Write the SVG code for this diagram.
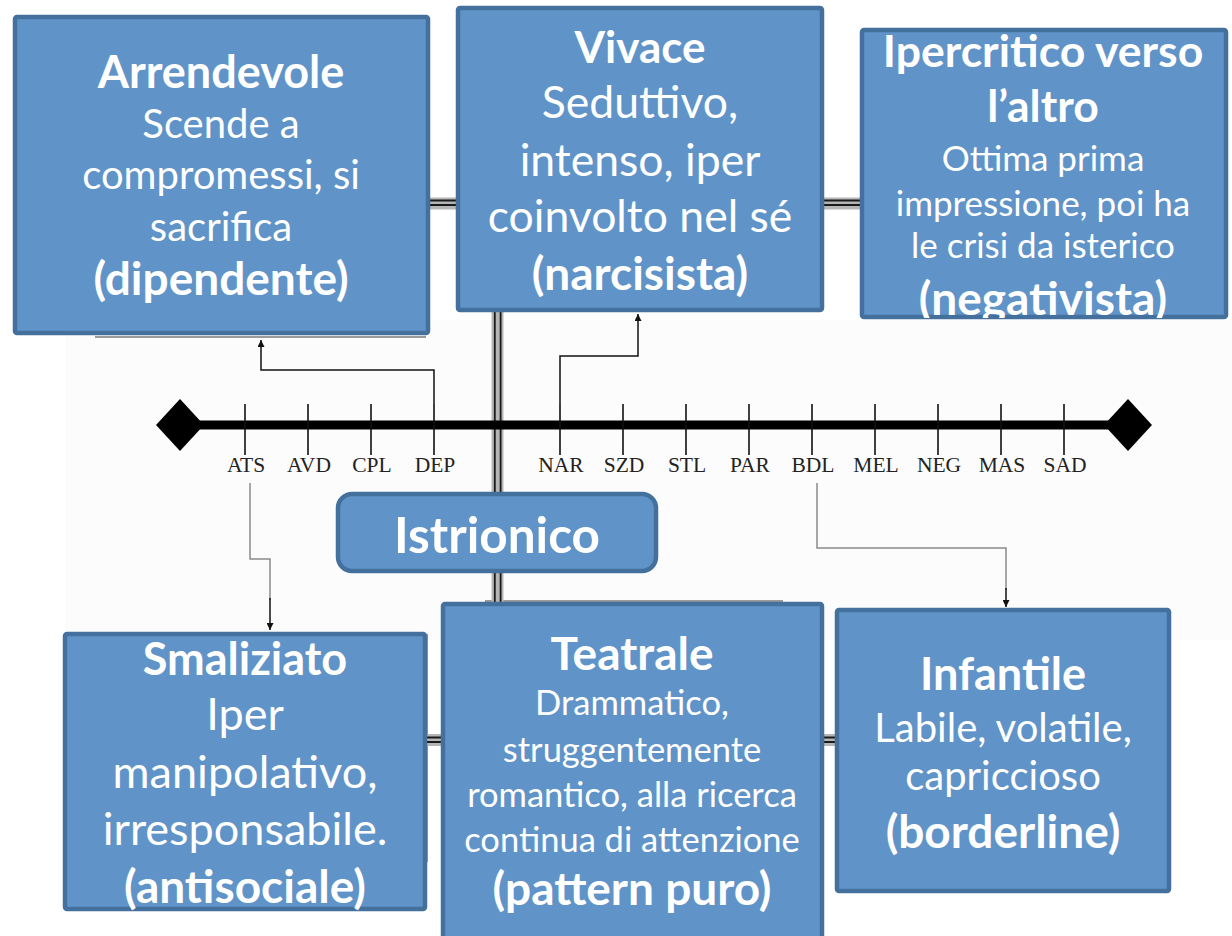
<svg xmlns="http://www.w3.org/2000/svg" width="1232" height="936" viewBox="0 0 1232 936">
<defs>
<style>
.box{fill:#6094c8;stroke:#44709e;stroke-width:4.5}
.t{font-family:Lato,"Open Sans",sans-serif;fill:#fff;text-anchor:middle}
.b{font-weight:bold}
.lbl{font-family:"Liberation Serif",serif;font-size:21.5px;fill:#222;text-anchor:middle}
.tick{stroke:#111;stroke-width:1.6}
.dblG{stroke:#b5b5b5;stroke-width:12;fill:none}
.dblK{stroke:#1a1a1a;stroke-width:1.8;fill:none}
.con{stroke:#111;stroke-width:1.5;fill:none}
.cong{stroke:#8a8a8a;stroke-width:1.5;fill:none}
.shadow{stroke:#9a9a9a;stroke-width:2;fill:none}
</style>
<marker id="ah" viewBox="0 0 10 10" refX="10" refY="5" markerWidth="7" markerHeight="7" markerUnits="userSpaceOnUse" orient="auto">
<path d="M0,0 L10,5 L0,10 z" fill="#111"/>
</marker>
<clipPath id="c3"><rect x="858" y="26" width="372" height="292"/></clipPath>
<clipPath id="c4"><rect x="62" y="630" width="366" height="281"/></clipPath>
</defs>
<rect width="1232" height="936" fill="#fff"/>
<rect x="65" y="320" width="1167" height="320" fill="#fcfcfc"/>

<g id="connectors">
<path class="shadow" d="M95,337 H426"/>
<path class="shadow" d="M485,601 H783"/>
<path class="shadow" d="M427,634 V862" stroke="#c8c8c8"/>
<path class="dblG" d="M497.5,312 V603"/>
<path class="dblK" d="M494.8,312 V603"/>
<path class="dblK" d="M500.6,312 V603"/>
<path class="dblG" d="M429,203.5 H457 M823,203.5 H860" stroke-width="9"/>
<path class="dblK" d="M429,200.5 H457 M823,200.5 H860"/>
<path class="dblK" d="M429,205 H457 M823,205 H860"/>
<path class="dblG" d="M426,740 H442 M823,740 H835" stroke-width="9"/>
<path class="dblK" d="M426,737.5 H442 M823,737.5 H835"/>
<path class="dblK" d="M426,742 H442 M823,742 H835"/>
<path d="M180,425 H1128" stroke="#000" stroke-width="9"/>
<path d="M156,425 L180,399 L204,425 L180,451 z" fill="#000"/>
<path d="M1104,425 L1128,399 L1152,425 L1128,451 z" fill="#000"/>
<g class="tick">
<path d="M245,404 V455 M308,404 V455 M371,404 V455 M434,404 V455 M560,404 V455 M623,404 V455 M686,404 V455 M749,404 V455 M812,404 V455 M875,404 V455 M938,404 V455 M1001,404 V455 M1064,404 V455"/>
</g>
<path class="con" d="M434,404 V370 H261 V340" marker-end="url(#ah)"/>
<path class="con" d="M560,404 V356 H638 V314" marker-end="url(#ah)"/>
<path class="cong" d="M250,483 V559 H270 V600"/>
<path class="con" d="M270,598 V630" marker-end="url(#ah)"/>
<path class="cong" d="M817,483 V548 H1006 V590"/>
<path class="con" d="M1006,588 V607" marker-end="url(#ah)"/>
</g>

<g id="labels">
<text class="lbl" x="246" y="472">ATS</text>
<text class="lbl" x="309" y="472">AVD</text>
<text class="lbl" x="372" y="472">CPL</text>
<text class="lbl" x="435" y="472">DEP</text>
<text class="lbl" x="561" y="472">NAR</text>
<text class="lbl" x="624" y="472">SZD</text>
<text class="lbl" x="687" y="472">STL</text>
<text class="lbl" x="750" y="472">PAR</text>
<text class="lbl" x="813" y="472">BDL</text>
<text class="lbl" x="876" y="472">MEL</text>
<text class="lbl" x="939" y="472">NEG</text>
<text class="lbl" x="1002" y="472">MAS</text>
<text class="lbl" x="1065" y="472">SAD</text>
</g>

<g id="arrendevole">
<rect class="box" x="15" y="17" width="413" height="316" rx="2"/>
<text class="t b" x="221" y="88" font-size="45">Arrendevole</text>
<text class="t" x="221" y="138" font-size="40">Scende a</text>
<text class="t" x="221" y="189" font-size="40">compromessi, si</text>
<text class="t" x="221" y="241" font-size="40">sacrifica</text>
<text class="t b" x="221" y="295" font-size="46">(dipendente)</text>
</g>

<g id="vivace">
<rect class="box" x="458" y="8" width="364" height="302" rx="2"/>
<text class="t b" x="640" y="63" font-size="44">Vivace</text>
<text class="t" x="640" y="118" font-size="44.5">Seduttivo,</text>
<text class="t" x="640" y="176" font-size="44.5">intenso, iper</text>
<text class="t" x="640" y="232" font-size="44.5">coinvolto nel sé</text>
<text class="t b" x="640" y="290" font-size="46">(narcisista)</text>
</g>

<g id="ipercritico">
<rect class="box" x="862" y="30" width="364" height="287" rx="2"/>
<text class="t b" x="1043" y="67" font-size="44.5">Ipercritico verso</text>
<text class="t b" x="1043" y="122" font-size="44.5">l’altro</text>
<text class="t" x="1043" y="171" font-size="35">Ottima prima</text>
<text class="t" x="1043" y="216" font-size="35">impressione, poi ha</text>
<text class="t" x="1043" y="258" font-size="35">le crisi da isterico</text>
<text class="t b" x="1043" y="315" font-size="46" clip-path="url(#c3)">(negativista)</text>
</g>

<g id="istrionico">
<rect class="box" x="338" y="494" width="318" height="77" rx="14"/>
<text class="t b" x="497" y="553" font-size="49.5">Istrionico</text>
</g>

<g id="smaliziato">
<rect class="box" x="65" y="634" width="360" height="275" rx="2"/>
<text class="t b" x="245" y="675" font-size="45">Smaliziato</text>
<text class="t" x="245" y="730" font-size="45">Iper</text>
<text class="t" x="245" y="788" font-size="45">manipolativo,</text>
<text class="t" x="245" y="845" font-size="45">irresponsabile.</text>
<text class="t b" x="245" y="903" font-size="46" clip-path="url(#c4)">(antisociale)</text>
</g>

<g id="teatrale">
<rect class="box" x="443" y="604" width="379" height="340" rx="2"/>
<text class="t b" x="632" y="670" font-size="46">Teatrale</text>
<text class="t" x="632" y="715" font-size="34.5">Drammatico,</text>
<text class="t" x="632" y="762" font-size="34.5">struggentemente</text>
<text class="t" x="632" y="807" font-size="34.5">romantico, alla ricerca</text>
<text class="t" x="632" y="852" font-size="34.5">continua di attenzione</text>
<text class="t b" x="632" y="905" font-size="46">(pattern puro)</text>
</g>

<g id="infantile">
<rect class="box" x="837" y="610" width="332" height="281" rx="2"/>
<text class="t b" x="1003" y="690" font-size="45">Infantile</text>
<text class="t" x="1003" y="742" font-size="40">Labile, volatile,</text>
<text class="t" x="1003" y="790" font-size="40">capriccioso</text>
<text class="t b" x="1003" y="848" font-size="46">(borderline)</text>
</g>
</svg>
